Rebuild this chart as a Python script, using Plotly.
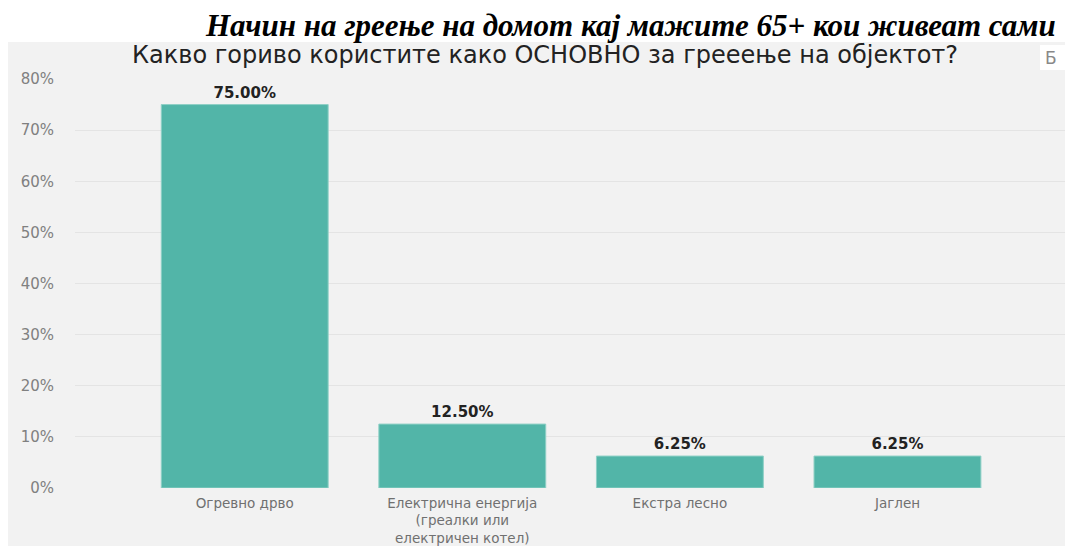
import plotly.graph_objects as go

categories = ["Огревно дрво", "Електрична енергија<br>(греалки или<br>електричен котел)", "Екстра лесно", "Јаглен"]
values = [75.00, 12.50, 6.25, 6.25]
value_labels = ["75.00%", "12.50%", "6.25%", "6.25%"]
y_ticks = [0, 10, 20, 30, 40, 50, 60, 70, 80]
y_tick_labels = [f"{v}%" for v in y_ticks]

title_text = "Начин на греење на домот кај мажите 65+ кои живеат сами"
subtitle_text = "Какво гориво користите како ОСНОВНО за грееење на објектот?"

BAR = "#52b5a8"
PANEL = "#f2f2f2"

fig = go.Figure(go.Bar(
    x=list(range(len(categories))),
    y=values,
    text=value_labels,
    textposition="outside",
    textfont=dict(family="DejaVu Sans", size=15, color="#222222", weight="bold"),
    cliponaxis=False,
    width=0.767,
    marker=dict(color=BAR, line=dict(color="#8fd0c6", width=1)),
    hoverinfo="skip",
))

fig.update_layout(
    width=1065, height=546,
    margin=dict(l=75, r=0, t=79, b=58),
    paper_bgcolor="white",
    plot_bgcolor="rgba(0,0,0,0)",
    showlegend=False,
    xaxis=dict(
        range=[-0.78, 3.77],
        tickmode="array",
        tickvals=list(range(len(categories))),
        ticktext=categories,
        tickfont=dict(family="DejaVu Sans", size=13.5, color="#707070"),
        showgrid=False, zeroline=False, showline=False, ticks="",
        ticklabelstandoff=5,
        automargin=False,
    ),
    yaxis=dict(
        range=[0, 80],
        tickmode="array",
        tickvals=y_ticks,
        ticktext=y_tick_labels,
        tickfont=dict(family="DejaVu Sans", size=15, color="#808080"),
        showgrid=True, gridcolor="#e4e4e4", gridwidth=1,
        zeroline=False, showline=False, ticks="",
        ticklabelstandoff=20,
        automargin=False,
    ),
    shapes=[
        dict(type="rect", xref="paper", yref="paper", x0=-0.0677, x1=1.0, y0=-0.2, y1=1.0905,
             fillcolor=PANEL, line=dict(width=0), layer="below"),
        dict(type="rect", xref="paper", yref="paper", x0=0.9747, x1=1.0, y0=1.022, y1=1.0831,
             fillcolor="white", line=dict(width=0), layer="above"),
    ],
    annotations=[
        dict(text=title_text, xref="paper", yref="paper", x=0.993, y=1.132,
             xanchor="right", yanchor="middle", showarrow=False,
             font=dict(family="Liberation Serif", size=31, color="black", weight="bold", style="italic")),
        dict(text=subtitle_text, xref="paper", yref="paper", x=0.4747, y=1.0587,
             xanchor="center", yanchor="middle", showarrow=False,
             font=dict(family="DejaVu Sans", size=24, color="#222222")),
        dict(text="Б", xref="paper", yref="paper", x=0.978, y=1.0525,
             xanchor="left", yanchor="middle", showarrow=False,
             font=dict(family="DejaVu Sans", size=17, color="#888888")),
    ],
)

fig.write_html(
    "out.html",
    config={"displayModeBar": False},
    post_script="document.body.style.margin='0';document.body.style.overflow='hidden';",
)
